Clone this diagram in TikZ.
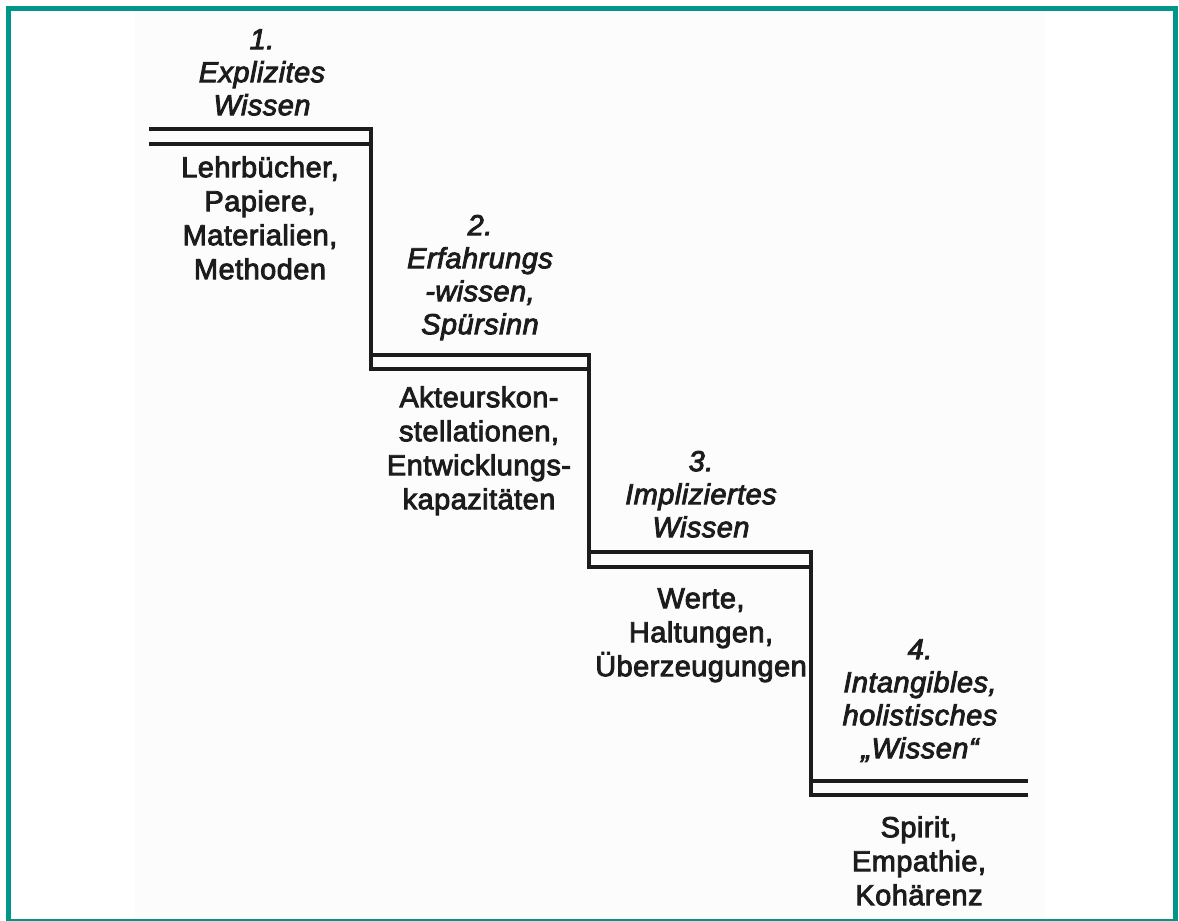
\documentclass[tikz,border=0pt]{standalone}
\usepackage{fontspec}
\setmainfont{Liberation Sans}[LetterSpace=1.5,
  UprightFeatures={FakeBold=3},ItalicFeatures={FakeBold=3}]
\definecolor{frameteal}{RGB}{0,150,138}
\definecolor{ink}{RGB}{28,28,28}
\definecolor{paper}{RGB}{252,252,252}
\begin{document}
\begin{tikzpicture}[x=1pt,y=-1pt,
  stair/.style={draw=ink,line width=4.5pt,line join=miter,line cap=butt},
  label/.style={anchor=north,inner sep=0pt,align=center,text=ink,
    font=\fontsize{29}{34}\selectfont},
  title/.style={label,font=\fontsize{29}{33}\selectfont\itshape}]
\useasboundingbox (0,0) rectangle (1179,921);
\fill[white] (0,0) rectangle (1179,921);
\fill[paper] (135,11) rectangle (1045,919);
% teal frame
\draw[frameteal,line width=5pt] (8.5,8.5) rectangle (1175.5,921.5);

% corner points of the staircase
\coordinate (s1l) at (149,129);  \coordinate (s1r) at (371,129);
\coordinate (s1ll) at (149,144); \coordinate (s1lr) at (371,144);
\coordinate (s2l) at (371,355);  \coordinate (s2r) at (589,355);
\coordinate (s2ll) at (371,369); \coordinate (s2lr) at (589,369);
\coordinate (s3l) at (589,552);  \coordinate (s3r) at (811,552);
\coordinate (s3ll) at (589,567); \coordinate (s3lr) at (811,567);
\coordinate (s4l) at (811,781);  \coordinate (s4r) at (1028,781);
\coordinate (s4ll) at (811,795); \coordinate (s4lr) at (1028,795);

% double-lined steps
\draw[stair] (s1l) -- (s1r) -- (s2ll) -- (s2lr);
\draw[stair] (s1ll) -- (s1lr);
\draw[stair] (s2l) -- (s2r) -- (s3ll) -- (s3lr);
\draw[stair] (s3l) -- (s3r) -- (s4ll) -- (s4lr);
\draw[stair] (s4l) -- (s4r);

% step titles (first baseline sits 22pt below the node top)
\node[title] (t1) at (262,27)  {\rule{0pt}{22pt}1.\\Explizites\\Wissen};
\node[title] (t2) at (480,213) {\rule{0pt}{22pt}2.\\Erfahrungs\\-wissen,\\Spürsinn};
\node[title] (t3) at (701,449) {\rule{0pt}{22pt}3.\\Impliziertes\\Wissen};
\node[title] (t4) at (920,637) {\rule{0pt}{22pt}4.\\Intangibles,\\holistisches\\„Wissen“};

% contents of each step
\node[label] (b1) at (260,155) {\rule{0pt}{22pt}Lehrbücher,\\Papiere,\\Materialien,\\Methoden};
\node[label] (b2) at (479,385) {\rule{0pt}{22pt}Akteurskon-\\stellationen,\\Entwicklungs-\\kapazitäten};
\node[label] (b3) at (701,586) {\rule{0pt}{22pt}Werte,\\Haltungen,\\Überzeugungen};
\node[label] (b4) at (919,815) {\rule{0pt}{22pt}Spirit,\\Empathie,\\Kohärenz};
\end{tikzpicture}
\end{document}
